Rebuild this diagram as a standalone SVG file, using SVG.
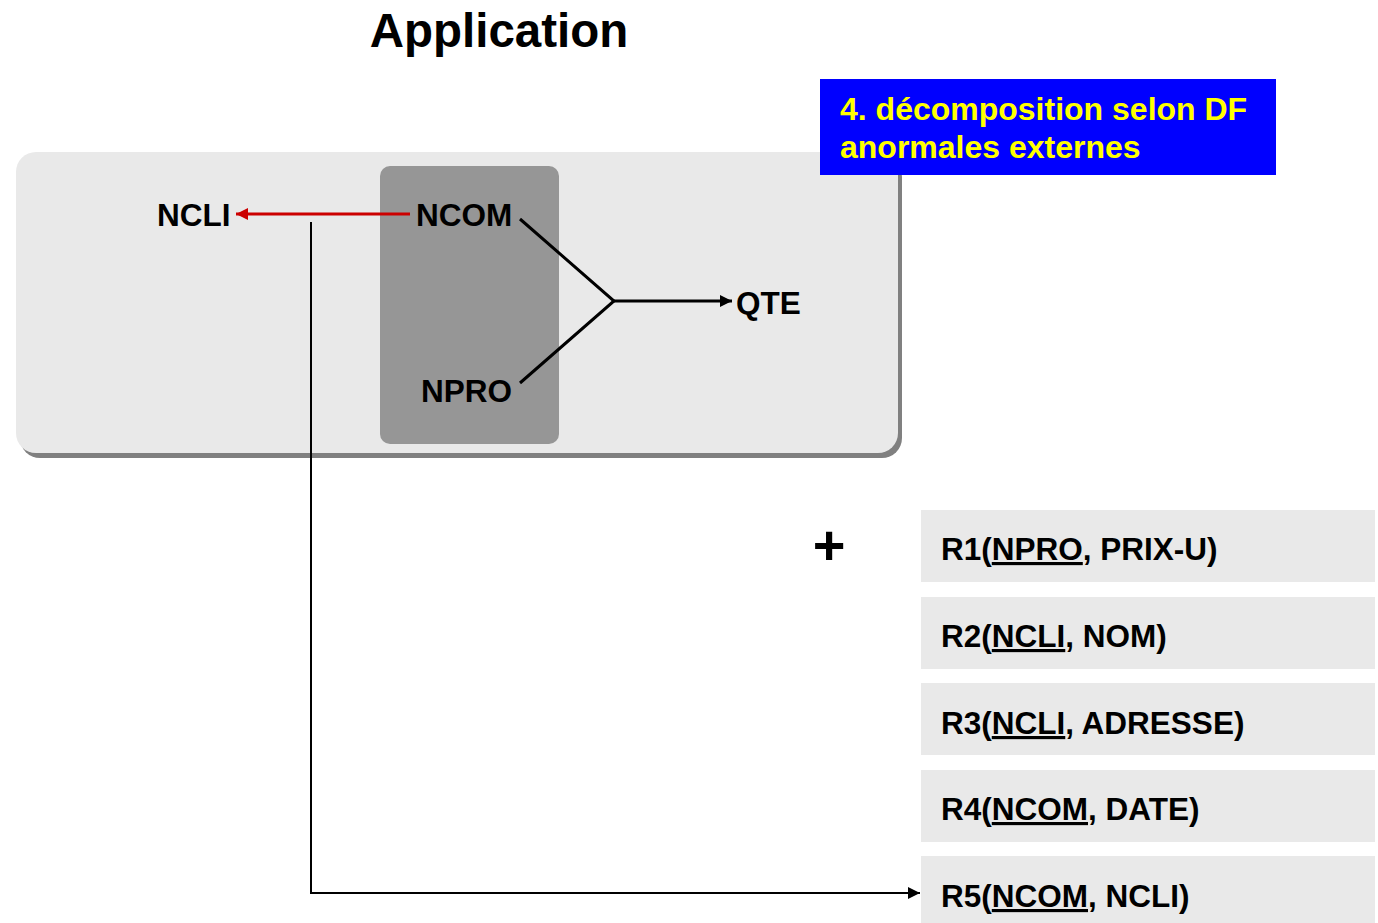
<svg xmlns="http://www.w3.org/2000/svg" width="1378" height="923" viewBox="0 0 1378 923">
  <defs>
    <style>
      text { font-family: "Liberation Sans", Arial, sans-serif; font-weight: bold; }
      .lbl { font-size: 31.5px; fill: #000; }
      .rel { fill: #e9e9e9; }
      .key { text-decoration: underline; }
      .ln { fill: none; stroke: #000; stroke-width: 3; }
    </style>
    <marker id="ahBlack" viewBox="0 0 10 10" refX="10" refY="5" markerWidth="5" markerHeight="4" markerUnits="strokeWidth" orient="auto">
      <path d="M0,0 L10,5 L0,10 z" fill="#000"/>
    </marker>
    <marker id="ahBlack2" viewBox="0 0 10 10" refX="10" refY="5" markerWidth="6" markerHeight="7" markerUnits="strokeWidth" orient="auto">
      <path d="M0,0 L10,5 L0,10 z" fill="#000"/>
    </marker>
    <marker id="ahRed" viewBox="0 0 10 10" refX="10" refY="5" markerWidth="5" markerHeight="4" markerUnits="strokeWidth" orient="auto">
      <path d="M0,0 L10,5 L0,10 z" fill="#cc0000"/>
    </marker>
  </defs>

  <rect width="1378" height="923" fill="#fff"/>

  <text x="499" y="47" font-size="47.5" text-anchor="middle">Application</text>

  <!-- dependency panel -->
  <g id="panel">
    <rect x="20" y="157" width="882" height="301" rx="20" fill="#808080"/>
    <rect x="16" y="152" width="882" height="301" rx="20" fill="#e9e9e9"/>
  </g>
  <g id="keyBox">
    <rect x="380" y="166" width="179" height="278" rx="10" fill="#969696"/>
  </g>

  <g id="title-box">
    <rect x="820" y="79" width="456" height="96" fill="#0000ff"/>
    <text x="840" y="120" font-size="32" fill="#ffff00">4. décomposition selon DF</text>
    <text x="840" y="158" font-size="32" fill="#ffff00">anormales externes</text>
  </g>

  <g id="NCLI"><text class="lbl" x="157" y="226">NCLI</text></g>
  <g id="NCOM"><text class="lbl" x="416" y="226">NCOM</text></g>
  <g id="NPRO"><text class="lbl" x="421" y="402">NPRO</text></g>
  <g id="QTE"><text class="lbl" x="736" y="314">QTE</text></g>

  <g id="plus"><text x="829" y="564" font-size="56" text-anchor="middle">+</text></g>

  <g id="R1">
    <rect class="rel" x="921" y="510" width="454" height="72"/>
    <text class="lbl" x="941" y="560">R1(<tspan class="key">NPRO</tspan>, PRIX-U)</text>
  </g>
  <g id="R2">
    <rect class="rel" x="921" y="597" width="454" height="72"/>
    <text class="lbl" x="941" y="647">R2(<tspan class="key">NCLI</tspan>, NOM)</text>
  </g>
  <g id="R3">
    <rect class="rel" x="921" y="683" width="454" height="72"/>
    <text class="lbl" x="941" y="734">R3(<tspan class="key">NCLI</tspan>, ADRESSE)</text>
  </g>
  <g id="R4">
    <rect class="rel" x="921" y="770" width="454" height="72"/>
    <text class="lbl" x="941" y="820">R4(<tspan class="key">NCOM</tspan>, DATE)</text>
  </g>
  <g id="R5">
    <rect class="rel" x="921" y="856" width="454" height="72"/>
    <text class="lbl" x="941" y="907">R5(<tspan class="key">NCOM</tspan>, NCLI)</text>
  </g>

  <g id="connectors">
    <line x1="410" y1="214" x2="236" y2="214" stroke="#cc0000" stroke-width="3" marker-end="url(#ahRed)"/>
    <polyline class="ln" points="520,219 614,301 520,383"/>
    <line class="ln" x1="614" y1="301" x2="732" y2="301" marker-end="url(#ahBlack)"/>
    <polyline points="311,222 311,893 920,893" fill="none" stroke="#000" stroke-width="2" marker-end="url(#ahBlack2)"/>
  </g>
</svg>
